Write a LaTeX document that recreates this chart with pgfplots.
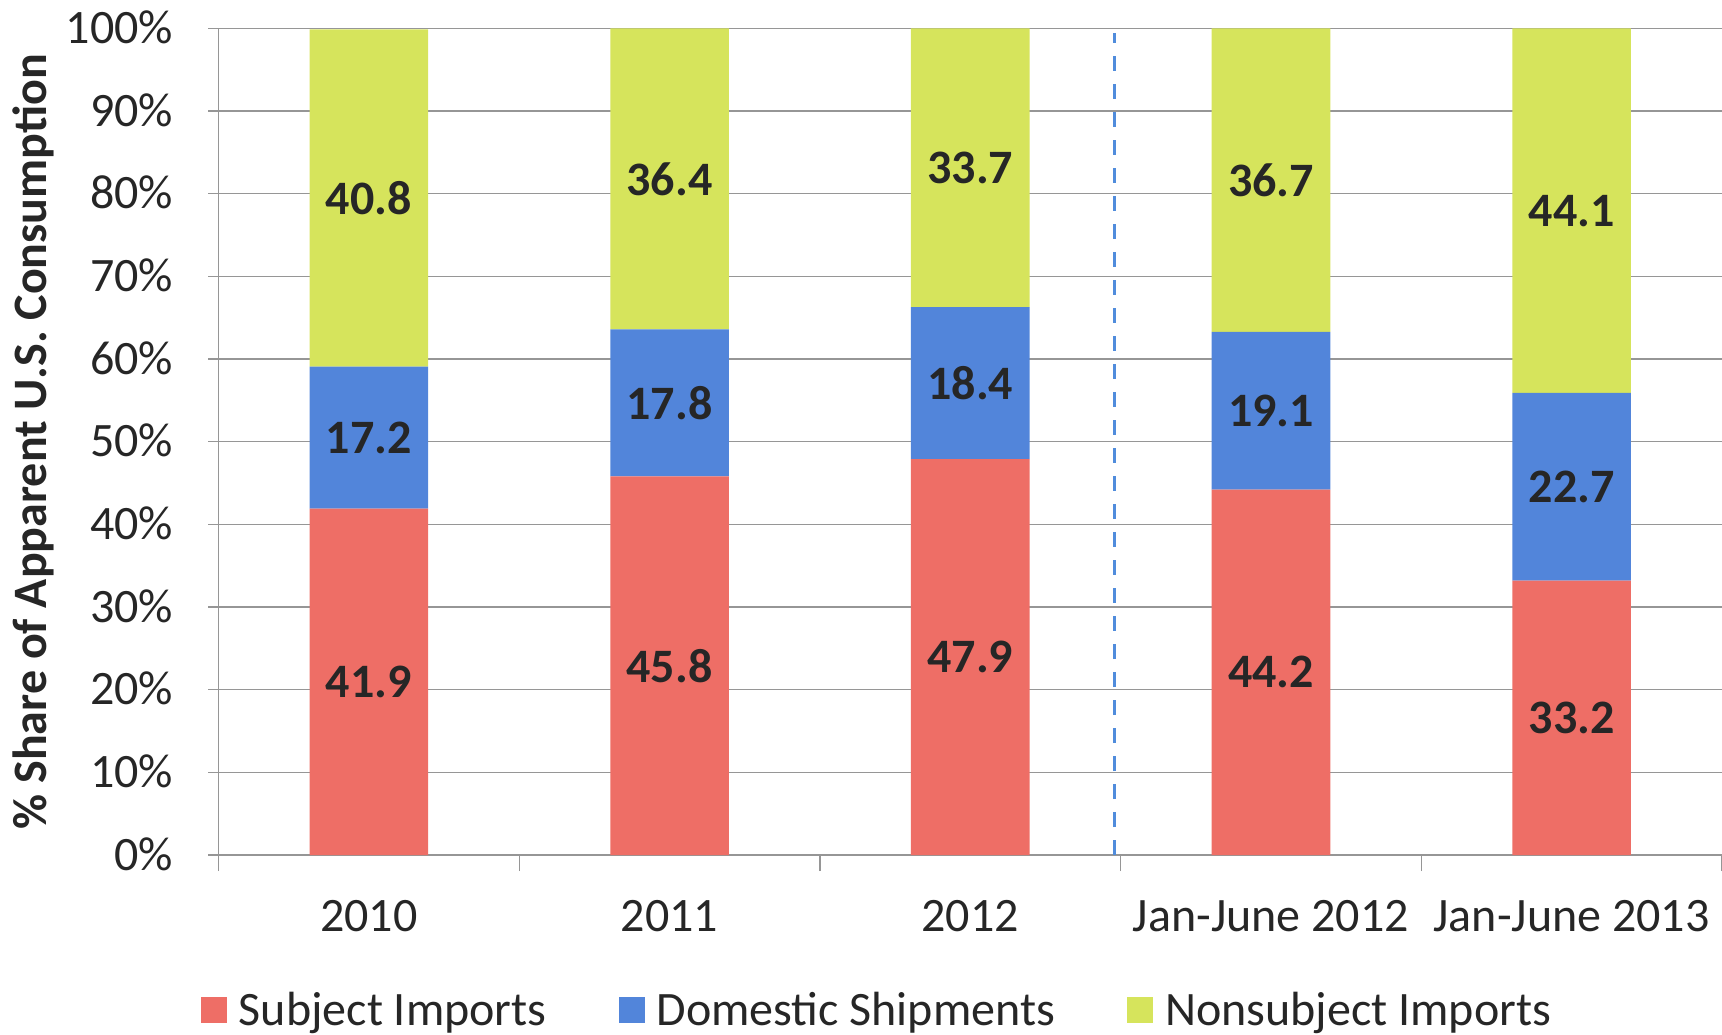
\documentclass[border=0pt]{standalone}
\usepackage{pgfplots}
\pgfplotsset{compat=1.18}
\usepackage{fontspec}
\setmainfont{Carlito}
\definecolor{cred}{RGB}{238,110,102}
\definecolor{cblue}{RGB}{82,133,218}
\definecolor{cgreen}{RGB}{214,228,92}
\definecolor{ctext}{RGB}{38,38,38}
\definecolor{cgrid}{RGB}{150,150,150}
\definecolor{cdash}{RGB}{80,140,220}
\begin{document}
\begin{tikzpicture}
\pgfplotsset{
  base/.style={
    scale only axis, width=751.75pt, height=413.25pt,
    at={(109.25pt,89.5pt)}, anchor=south west,
    xmin=-0.5, xmax=4.5, ymin=0, ymax=100,
  }
}
\begin{axis}[base,
  ybar stacked, bar width=59.3pt,
  /pgf/number format/assume math mode=true,
  axis x line*=bottom, axis y line*=left,
  axis line style={cgrid, line width=0.7pt},
  ymajorgrids, grid style={cgrid, line width=0.7pt},
  tick align=outside,
  tick style={cgrid, line width=0.7pt},
  major tick length=5pt, minor tick length=8pt,
  major x tick style={draw=none},
  ytick={0,10,...,100},
  yticklabel={\pgfmathprintnumber{\tick}\%},
  xtick={0,1,2,3,4},
  xticklabels={2010,2011,2012,Jan-June 2012,Jan-June 2013},
  minor xtick={-0.5,0.5,1.5,2.5,3.5,4.5},
  tick label style={font=\fontsize{24}{28}\selectfont, text=ctext},
  yticklabel style={anchor=base east, inner sep=0pt, xshift=-17.5pt, yshift=-7.5pt},
  xticklabel style={anchor=base, inner sep=0pt, yshift=-33pt},
  ylabel={\% Share of Apparent U.S. Consumption},
  every axis y label/.style={at={(axis description cs:-0.1234,0.5)}, rotate=90, anchor=center, font=\bfseries\fontsize{24}{28}\selectfont, text=ctext},
  visualization depends on={rawy \as \myrawy},
  nodes near coords={\pgfmathprintnumber[fixed,precision=1,fixed zerofill]{\myrawy}},
  nodes near coords style={font=\bfseries\fontsize{24}{28}\selectfont, text=ctext, anchor=center},
  legend style={at={(0.4386,-0.1875)}, anchor=center, draw=none, legend columns=3,
    font=\fontsize{24}{28}\selectfont, text=ctext,
    /tikz/every odd column/.append style={column sep=4pt},
    /tikz/every even column/.append style={column sep=34pt}},
  legend image code/.code={\fill[#1,draw=none] (0pt,-6.5pt) rectangle (13pt,6.5pt);},
]
\addplot[fill=cred, draw=none] coordinates {(0,41.9) (1,45.8) (2,47.9) (3,44.2) (4,33.2)};
\addplot[fill=cblue, draw=none] coordinates {(0,17.2) (1,17.8) (2,18.4) (3,19.1) (4,22.7)};
\addplot[fill=cgreen, draw=none] coordinates {(0,40.8) (1,36.4) (2,33.7) (3,36.7) (4,44.1)};
\legend{Subject Imports, Domestic Shipments, Nonsubject Imports}
\end{axis}
\begin{axis}[base, hide axis]
\addplot[cdash, line width=1.3pt, dash pattern=on 7.5pt off 6.5pt] coordinates {(2.48,0) (2.48,99.5)};
\end{axis}
\pgfresetboundingbox
\path[use as bounding box] (0,0) rectangle (861pt,517pt);
\end{tikzpicture}
\end{document}
